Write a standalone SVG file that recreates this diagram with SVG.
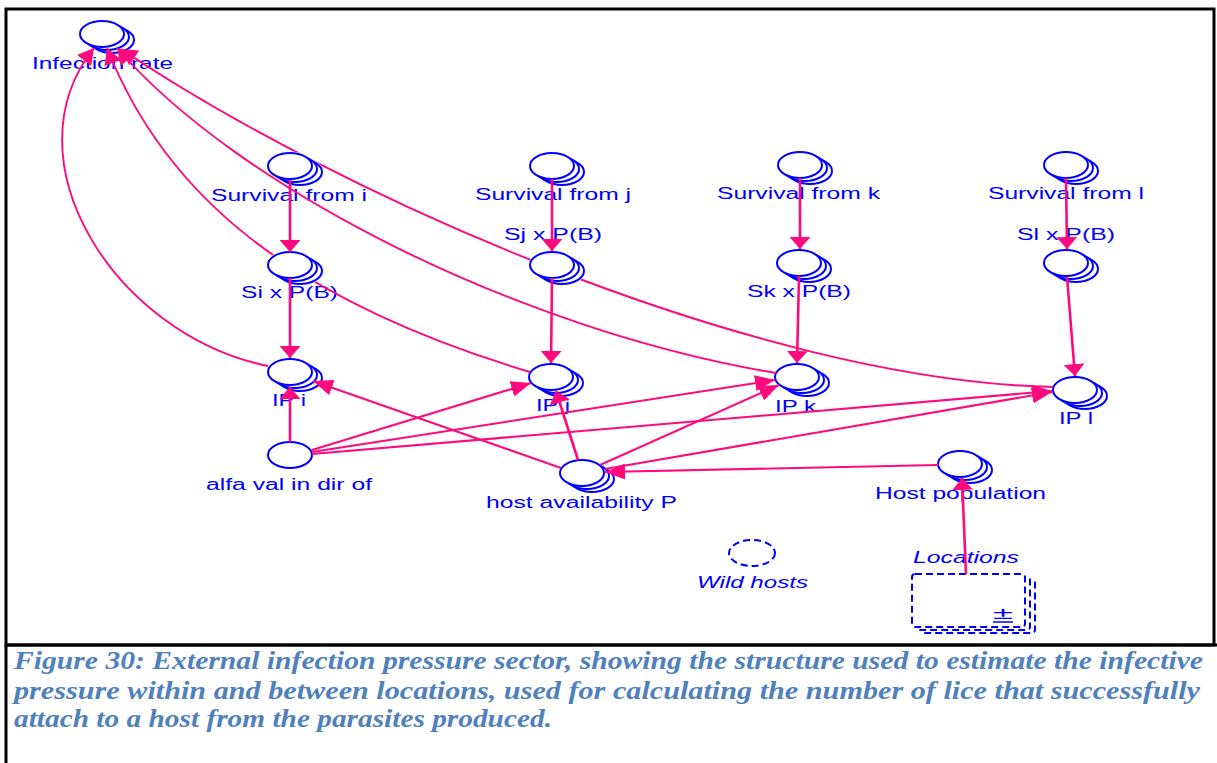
<svg xmlns="http://www.w3.org/2000/svg" xmlns:xlink="http://www.w3.org/1999/xlink" width="1217" height="763" viewBox="0 0 1217 763">
  <style>
    .nd ellipse { fill: #ffffff; stroke: #0000ff; stroke-width: 2; }
    .dash { fill: #ffffff; stroke: #0000ff; stroke-width: 2; stroke-dasharray: 7 4; }
    .lbl { font-family: "Liberation Sans", Arial, sans-serif; font-size: 16px; fill: #0000ff; }
    .it { font-style: italic; }
    .ln { fill: none; stroke: #ff0a7c; stroke-width: 2.6; }
    .cv { fill: none; stroke: #ff0a7c; stroke-width: 1.9; }
    .thin { fill: none; stroke: #ff0a7c; stroke-width: 2.1; }
    .cap { font-family: "Liberation Serif", "Times New Roman", serif; font-style: italic; font-weight: bold; font-size: 25px; fill: #4f81bd; }
    .frame { fill: none; stroke: #000000; stroke-width: 3; }
  </style>
  <defs>
    <!-- arrayed converter: two offset copies behind the front ellipse -->
    <g id="stack" class="nd">
      <ellipse cx="10" cy="6" rx="22" ry="13"/>
      <ellipse cx="5" cy="3" rx="22" ry="13"/>
      <ellipse cx="0" cy="0" rx="22" ry="13"/>
    </g>
    <g id="hole">
      <ellipse cx="10" cy="6" rx="23.5" ry="14.5"/>
      <ellipse cx="5" cy="3" rx="23.5" ry="14.5"/>
      <ellipse cx="0" cy="0" rx="23.5" ry="14.5"/>
    </g>
    <!-- links drawn under converters they pass behind -->
    <mask id="behind" maskUnits="userSpaceOnUse" x="0" y="0" width="1217" height="763">
      <rect x="0" y="0" width="1217" height="763" fill="#ffffff"/>
      <use xlink:href="#hole" x="290" y="166" fill="#000000"/>
      <use xlink:href="#hole" x="290" y="265" fill="#000000"/>
      <use xlink:href="#hole" x="552" y="265" fill="#000000"/>
    </mask>
    <marker id="arrV" markerUnits="userSpaceOnUse" viewBox="0 -11 12 22" refX="12" refY="0" markerWidth="12" markerHeight="22" orient="auto">
      <path d="M0,-10.5 L12,0 L0,10.5 Z" fill="#ff0a7c"/>
    </marker>
    <marker id="arrD" markerUnits="userSpaceOnUse" viewBox="0 -9 16 18" refX="16" refY="0" markerWidth="16" markerHeight="18" orient="auto">
      <path d="M0,-9 L16,0 L0,9 Z" fill="#ff0a7c"/>
    </marker>
    <marker id="arrH" markerUnits="userSpaceOnUse" viewBox="0 -8 20 16" refX="20" refY="0" markerWidth="20" markerHeight="16" orient="auto">
      <path d="M0,-8 L20,0 L0,8 Z" fill="#ff0a7c"/>
    </marker>
  </defs>

  <rect x="0" y="0" width="1217" height="763" fill="#ffffff"/>

  <!-- frame and caption divider -->
  <g id="frame">
    <rect class="frame" x="6" y="9" width="1208" height="636"/>
    <line class="frame" x1="6" y1="645" x2="1217" y2="645"/>
    <line class="frame" x1="6" y1="645" x2="6" y2="763"/>
  </g>

  <!-- nodes -->
  <g id="infection-rate">
    <use xlink:href="#stack" x="102" y="34"/>
    <text class="lbl" x="32" y="69" textLength="141" lengthAdjust="spacingAndGlyphs">Infection rate</text>
  </g>
  <g id="survival-from-i">
    <use xlink:href="#stack" x="290" y="166"/>
    <text class="lbl" x="211" y="201" textLength="156" lengthAdjust="spacingAndGlyphs">Survival from i</text>
  </g>
  <g id="si-x-pb">
    <use xlink:href="#stack" x="290" y="265"/>
    <text class="lbl" x="241" y="298" textLength="97" lengthAdjust="spacingAndGlyphs">Si x P(B)</text>
  </g>
  <g id="ip-i">
    <use xlink:href="#stack" x="290" y="372"/>
    <text class="lbl" x="272" y="406" textLength="34" lengthAdjust="spacingAndGlyphs">IP i</text>
  </g>
  <g id="alfa-val">
    <ellipse cx="290" cy="455" rx="22" ry="13" fill="#ffffff" stroke="#0000ff" stroke-width="2"/>
    <text class="lbl" x="206" y="490" textLength="166" lengthAdjust="spacingAndGlyphs">alfa val in dir of</text>
  </g>
  <g id="survival-from-j">
    <use xlink:href="#stack" x="552" y="166"/>
    <text class="lbl" x="475" y="200" textLength="156" lengthAdjust="spacingAndGlyphs">Survival from j</text>
  </g>
  <g id="sj-x-pb">
    <use xlink:href="#stack" x="552" y="265"/>
    <text class="lbl" x="504" y="240" textLength="98" lengthAdjust="spacingAndGlyphs">Sj x P(B)</text>
  </g>
  <g id="ip-j">
    <use xlink:href="#stack" x="551" y="377"/>
    <text class="lbl" x="536" y="411" textLength="34" lengthAdjust="spacingAndGlyphs">IP j</text>
  </g>
  <g id="host-availability">
    <use xlink:href="#stack" x="582" y="473"/>
    <text class="lbl" x="486" y="508" textLength="191" lengthAdjust="spacingAndGlyphs">host availability P</text>
  </g>
  <g id="survival-from-k">
    <use xlink:href="#stack" x="800" y="165"/>
    <text class="lbl" x="717" y="199" textLength="163" lengthAdjust="spacingAndGlyphs">Survival from k</text>
  </g>
  <g id="sk-x-pb">
    <use xlink:href="#stack" x="799" y="263"/>
    <text class="lbl" x="747" y="297" textLength="104" lengthAdjust="spacingAndGlyphs">Sk x P(B)</text>
  </g>
  <g id="ip-k">
    <use xlink:href="#stack" x="797" y="377"/>
    <text class="lbl" x="775" y="412" textLength="41" lengthAdjust="spacingAndGlyphs">IP k</text>
  </g>
  <g id="survival-from-l">
    <use xlink:href="#stack" x="1066" y="165"/>
    <text class="lbl" x="988" y="199" textLength="156" lengthAdjust="spacingAndGlyphs">Survival from l</text>
  </g>
  <g id="sl-x-pb">
    <use xlink:href="#stack" x="1066" y="263"/>
    <text class="lbl" x="1017" y="240" textLength="98" lengthAdjust="spacingAndGlyphs">Sl x P(B)</text>
  </g>
  <g id="ip-l">
    <use xlink:href="#stack" x="1075" y="390"/>
    <text class="lbl" x="1059" y="424" textLength="34" lengthAdjust="spacingAndGlyphs">IP l</text>
  </g>
  <g id="host-population">
    <use xlink:href="#stack" x="960" y="464"/>
    <text class="lbl" x="875" y="499" textLength="171" lengthAdjust="spacingAndGlyphs">Host population</text>
  </g>
  <g id="wild-hosts">
    <ellipse class="dash" cx="752" cy="553" rx="23" ry="13"/>
    <text class="lbl it" x="697" y="588" textLength="111" lengthAdjust="spacingAndGlyphs">Wild hosts</text>
  </g>
  <g id="locations">
    <rect class="dash" x="922" y="580" width="113" height="53" rx="3"/>
    <rect class="dash" x="917" y="577" width="113" height="53" rx="3"/>
    <rect class="dash" x="912" y="574" width="113" height="53" rx="3"/>
    <text class="lbl" x="993" y="619" font-size="20" textLength="20" lengthAdjust="spacingAndGlyphs">±</text>
    <line x1="993" y1="622" x2="1013" y2="622" stroke="#0000ff" stroke-width="1.5"/>
    <text class="lbl it" x="913" y="563" textLength="106" lengthAdjust="spacingAndGlyphs">Locations</text>
  </g>

  <!-- connectors -->
  <g id="connectors">
    <path class="ln" d="M290,180 L290,252" marker-end="url(#arrV)"/>
    <path class="ln" d="M290,278 L290,358" marker-end="url(#arrV)"/>
    <path class="ln" d="M290,442 L290,387" marker-end="url(#arrV)"/>
    <path class="ln" d="M552,179 L552,251" marker-end="url(#arrV)"/>
    <path class="ln" d="M552,278 L551,363" marker-end="url(#arrV)"/>
    <path class="ln" d="M800,178 L800,249" marker-end="url(#arrV)"/>
    <path class="ln" d="M799,276 L797,363" marker-end="url(#arrV)"/>
    <path class="ln" d="M1066,178 L1067,249" marker-end="url(#arrV)"/>
    <path class="ln" d="M1067,277 L1075,376" marker-end="url(#arrV)"/>
    <path class="ln" d="M966,574 L962,478" marker-end="url(#arrV)"/>
    <path class="ln" d="M578,460 L556,391" marker-end="url(#arrV)"/>
    <path class="thin" d="M561,468 L313,381" marker-end="url(#arrH)"/>
    <path class="thin" d="M600,465 L779,385" marker-end="url(#arrH)"/>
    <path class="thin" d="M605,469 L1052,392" marker-end="url(#arrH)"/>
    <path class="thin" d="M938,465 L605,472" marker-end="url(#arrH)"/>
    <path class="thin" d="M312,450 L531,383" marker-end="url(#arrH)"/>
    <path class="thin" d="M312,452 L775,380" marker-end="url(#arrH)"/>
    <path class="thin" d="M312,454 L1052,391" marker-end="url(#arrH)"/>
    <path class="cv" d="M268,366 C115,335 5,160 94,48" marker-end="url(#arrD)"/>
    <path class="cv" d="M530,372 C290,300 165,195 107,48" marker-end="url(#arrD)" mask="url(#behind)"/>
    <path class="cv" d="M776,373 C520,330 240,190 117,48" marker-end="url(#arrD)"/>
    <path class="cv" d="M1053,387 C750,380 330,190 121,49" marker-end="url(#arrD)" mask="url(#behind)"/>
  </g>

  <!-- caption -->
  <g id="caption">
    <text class="cap" x="14" y="669" textLength="1189" lengthAdjust="spacingAndGlyphs">Figure 30: External infection pressure sector, showing the structure used to estimate the infective</text>
    <text class="cap" x="14" y="699" textLength="1186" lengthAdjust="spacingAndGlyphs">pressure within and between locations, used for calculating the number of lice that successfully</text>
    <text class="cap" x="14" y="727" textLength="538" lengthAdjust="spacingAndGlyphs">attach to a host from the parasites produced.</text>
  </g>
</svg>
